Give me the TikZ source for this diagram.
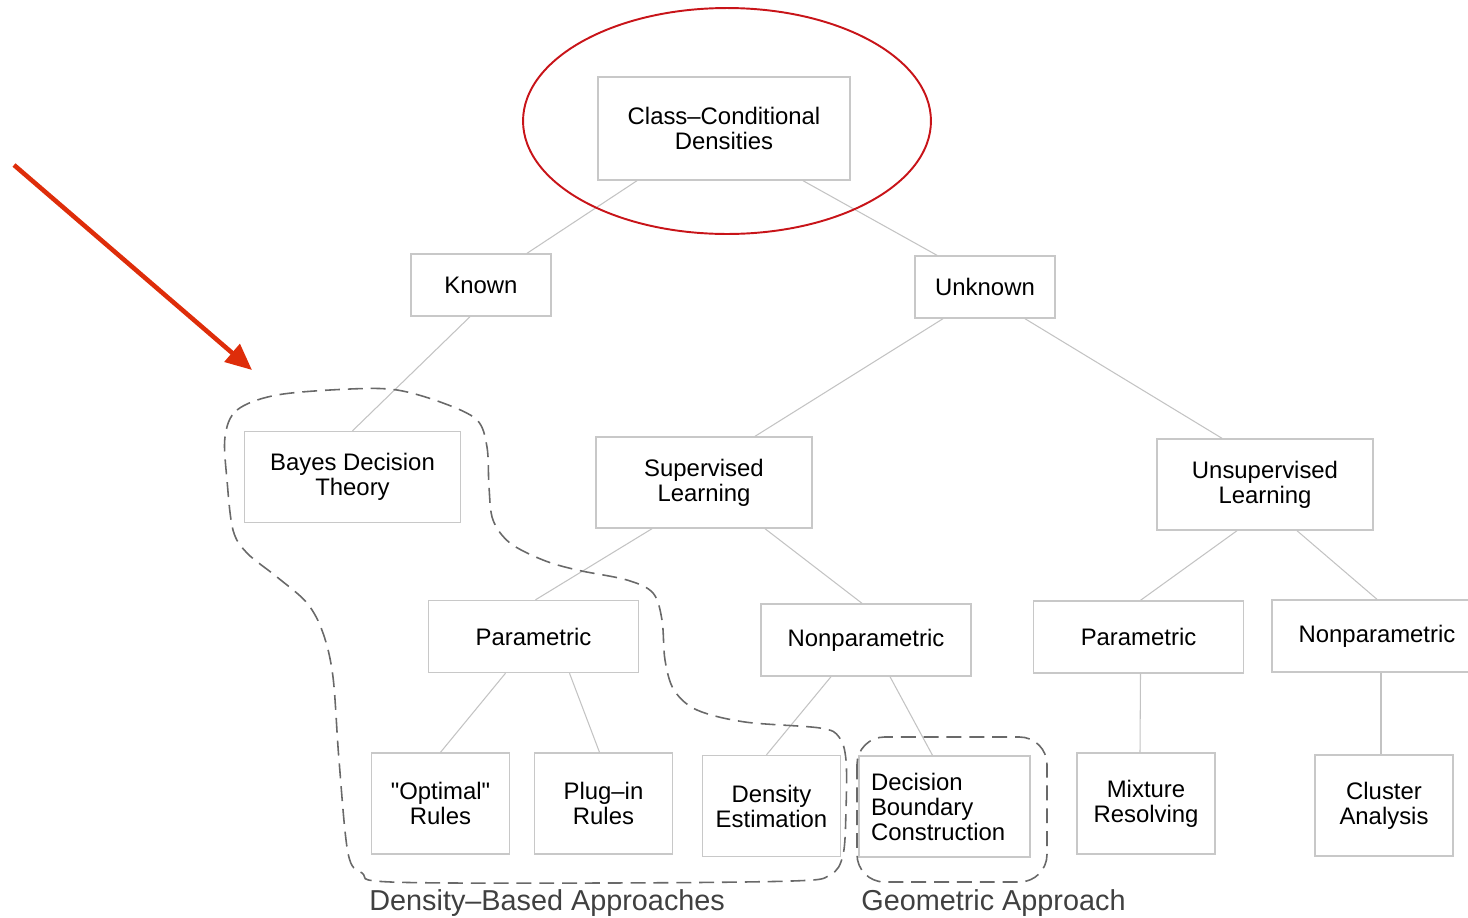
\documentclass[tikz,border=0pt]{standalone}
\usepackage{fontspec}
\setmainfont{Liberation Sans}
\newfontfamily\plainfont{Liberation Sans}
\usetikzlibrary{arrows.meta}
\definecolor{boxgray}{RGB}{200,200,200}
\definecolor{linkgray}{RGB}{195,195,195}
\definecolor{dashgray}{RGB}{105,105,105}
\definecolor{ringred}{RGB}{200,20,25}
\definecolor{arrowred}{RGB}{222,45,10}

\begin{document}
\begin{tikzpicture}[x=0.02cm, y=-0.02cm,
  box/.style = {draw=boxgray, line width=0.8pt, fill=white, inner sep=2pt, align=center, font=\plainfont\fontsize{13.6}{14.2}\selectfont},
  root/.style = {box, minimum width=5.04cm, minimum height=2.06cm},
  small/.style = {box, minimum width=2.8cm, minimum height=1.24cm},
  upper/.style = {box, minimum width=4.32cm, minimum height=1.82cm},
  mid/.style = {box, minimum width=4.2cm, minimum height=1.44cm},
  leaf/.style = {box, minimum width=2.76cm, minimum height=2.02cm},
  link/.style = {draw=linkgray, line width=0.6pt},
  group/.style = {draw=dashgray, line width=0.9pt, dash pattern=on 8.5pt off 4.5pt},
  grouplabel/.style = {text=black!75, font=\plainfont\fontsize{16.4}{18}\selectfont, inner sep=0pt, anchor=base west},
  redring/.style = {draw=ringred, line width=1.1pt},
  pointer/.style = {draw=arrowred, line width=2.6pt, -{Triangle[length=15pt, width=13pt]}}]
\useasboundingbox (0,0) rectangle (1468,917);

% tree
\node[root] (ccd) at (724,128.5) {Class–Conditional\\Densities};
\node[small] (known) at (481,285) {Known};
\node[small] (unknown) at (985,287) {Unknown};
\node[upper] (bayes) at (352.5,477) {Bayes Decision\\Theory};
\node[upper] (sup) at (704,482.5) {Supervised\\Learning};
\node[upper] (unsup) at (1265,484.5) {Unsupervised\\Learning};
\node[mid] (parl) at (533.5,636.5) {Parametric};
\node[mid] (nonparm) at (866,640) {Nonparametric};
\node[mid] (parr) at (1138.5,637) {Parametric};
\node[mid] (nonparr) at (1377,636) {Nonparametric};
\node[leaf] (optimal) at (440.5,803.5) {"Optimal"\\Rules};
\node[leaf] (plugin) at (603.5,803.5) {Plug–in\\Rules};
\node[leaf] (densest) at (771.5,806) {Density\\Estimation};
\node[leaf, text width=2.94cm, inner xsep=0.24cm, align=left] (dbc) at (944.5,806.5) {Decision\\Boundary\\Construction};
\node[leaf] (mixture) at (1146,803.5) {Mixture\\Resolving};
\node[leaf] (cluster) at (1384,805.5) {Cluster\\Analysis};

\foreach \p/\a/\c/\b in {ccd/-87/known/46, ccd/79/unknown/-48, known/-11/bayes/0,
    unknown/-42/sup/51, unknown/40/unsup/-43, sup/-52/parl/2, sup/61/nonparm/-4,
    unsup/-28/parr/2, unsup/32/nonparr/0, parl/-28/optimal/0, parl/36/plugin/-4,
    nonparm/-35/densest/-5, nonparm/24/dbc/-12, parr/2/mixture/-6, nonparr/4/cluster/-3}
  \draw[link] ([shift={(\a,0)}]\p.south) -- ([shift={(\b,0)}]\c.north);

% groups
\draw[group] plot[smooth cycle, tension=0.55] coordinates {(225,437) (237,410) (277,395)
  (350,389) (397,390) (443,403) (477,420) (487,447) (489,487) (493,520) (510,543)
  (543,560) (577,570) (627,580) (653,593) (662,620) (665,660) (674,690) (697,710)
  (745,722) (820,728) (839,737) (846,760) (846,810) (843,855) (830,875) (792,881)
  (603,883) (391,882) (362,873) (348,853) (339,760) (333,677) (323,633) (307,603)
  (277,577) (247,553) (233,530) (227,480)};
\draw[group, rounded corners=0.55cm] (857,737) rectangle (1047,882);
\node[grouplabel] (dlabel) at (369,910) {Density–Based Approaches};
\node[grouplabel] (glabel) at (861,910) {Geometric Approach};

% highlight
\draw[redring] (727,121) ellipse [x radius=4.08cm, y radius=2.26cm];
\coordinate (tail) at (14,165);
\coordinate (tip) at (252,370);
\draw[pointer] (tail) -- (tip);
\end{tikzpicture}
\end{document}
